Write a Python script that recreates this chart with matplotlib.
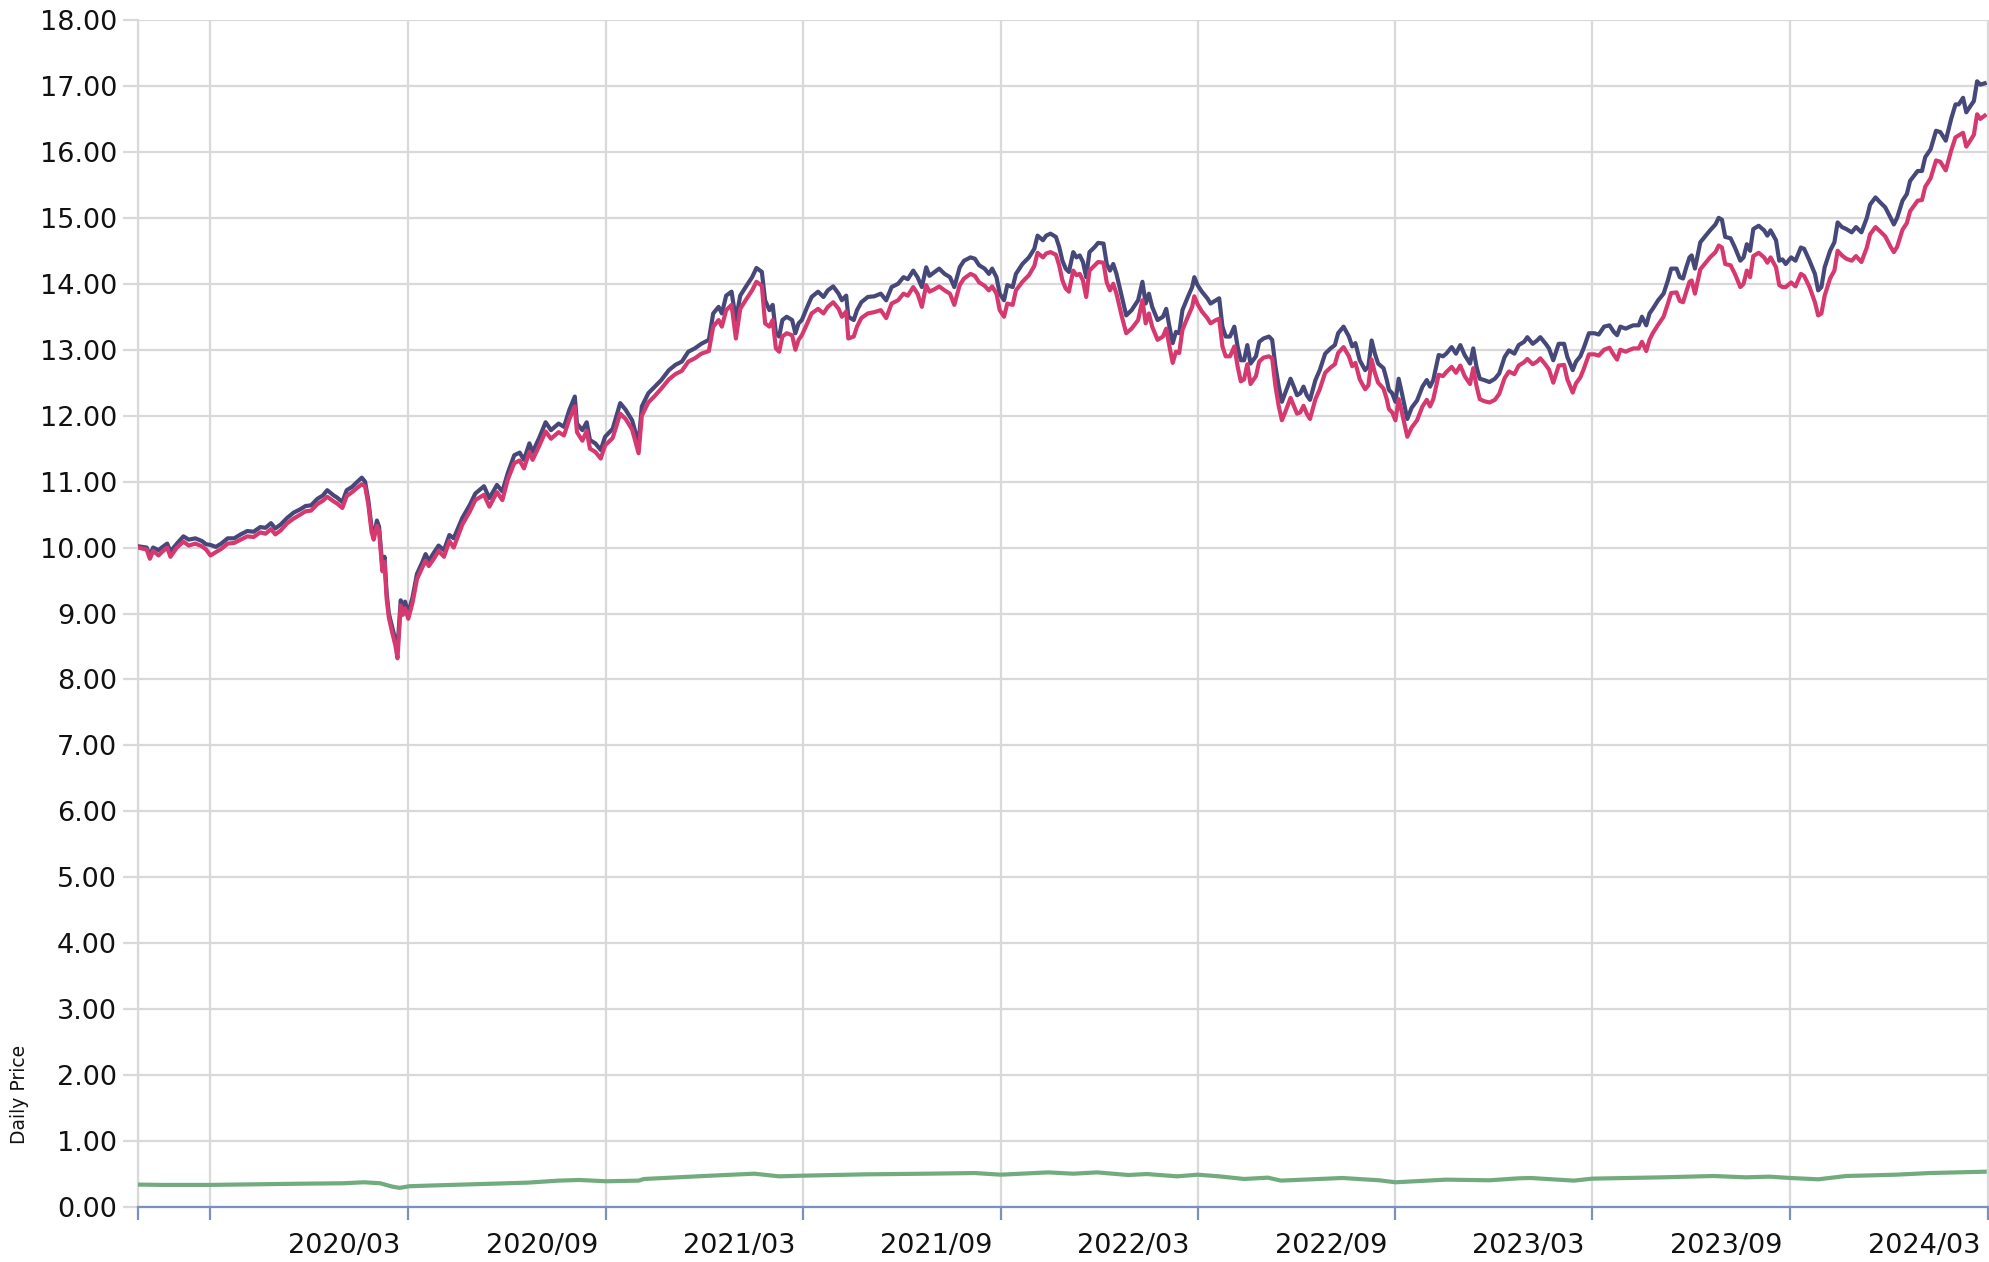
import pandas as pd
import matplotlib
matplotlib.use("Agg")
import matplotlib.pyplot as plt
import matplotlib.transforms as mtransforms

# --- data ---
price_dates = [
    "2019-07-25", "2019-08-02", "2019-08-05", "2019-08-08", "2019-08-13", "2019-08-16", "2019-08-21", "2019-08-24", "2019-08-30", "2019-09-05",
    "2019-09-10", "2019-09-16", "2019-09-22", "2019-09-26", "2019-09-30", "2019-10-05", "2019-10-10", "2019-10-16", "2019-10-22", "2019-10-28",
    "2019-11-03", "2019-11-09", "2019-11-15", "2019-11-20", "2019-11-25", "2019-11-29", "2019-12-04", "2019-12-10", "2019-12-16", "2019-12-22",
    "2019-12-27", "2020-01-01", "2020-01-07", "2020-01-12", "2020-01-16", "2020-01-22", "2020-01-25", "2020-01-30", "2020-02-03", "2020-02-08",
    "2020-02-13", "2020-02-17", "2020-02-20", "2020-02-23", "2020-02-26", "2020-02-28", "2020-03-02", "2020-03-04", "2020-03-07", "2020-03-09",
    "2020-03-11", "2020-03-13", "2020-03-16", "2020-03-19", "2020-03-21", "2020-03-24", "2020-03-26", "2020-03-28", "2020-03-31", "2020-04-04",
    "2020-04-08", "2020-04-13", "2020-04-16", "2020-04-19", "2020-04-24", "2020-04-28", "2020-05-03", "2020-05-08", "2020-05-12", "2020-05-20",
    "2020-05-27", "2020-06-01", "2020-06-09", "2020-06-14", "2020-06-21", "2020-06-26", "2020-07-01", "2020-07-07", "2020-07-12", "2020-07-16",
    "2020-07-21", "2020-07-24", "2020-07-30", "2020-08-05", "2020-08-10", "2020-08-17", "2020-08-22", "2020-08-27", "2020-09-01", "2020-09-03",
    "2020-09-08", "2020-09-12", "2020-09-15", "2020-09-20", "2020-09-25", "2020-09-29", "2020-10-06", "2020-10-13", "2020-10-18", "2020-10-24",
    "2020-10-30", "2020-11-02", "2020-11-08", "2020-11-14", "2020-11-20", "2020-11-27", "2020-12-03", "2020-12-09", "2020-12-15", "2020-12-21",
    "2020-12-27", "2021-01-03", "2021-01-07", "2021-01-12", "2021-01-15", "2021-01-19", "2021-01-24", "2021-01-28", "2021-02-01", "2021-02-06",
    "2021-02-12", "2021-02-16", "2021-02-21", "2021-02-24", "2021-02-28", "2021-03-03", "2021-03-06", "2021-03-09", "2021-03-12", "2021-03-16",
    "2021-03-21", "2021-03-24", "2021-03-27", "2021-03-30", "2021-04-04", "2021-04-08", "2021-04-14", "2021-04-19", "2021-04-23", "2021-04-28",
    "2021-05-03", "2021-05-06", "2021-05-10", "2021-05-12", "2021-05-17", "2021-05-20", "2021-05-24", "2021-05-30", "2021-06-05", "2021-06-11",
    "2021-06-16", "2021-06-21", "2021-06-27", "2021-07-02", "2021-07-06", "2021-07-11", "2021-07-15", "2021-07-19", "2021-07-23", "2021-07-26",
    "2021-07-31", "2021-08-04", "2021-08-09", "2021-08-14", "2021-08-18", "2021-08-23", "2021-08-27", "2021-09-02", "2021-09-06", "2021-09-10",
    "2021-09-15", "2021-09-19", "2021-09-22", "2021-09-26", "2021-09-29", "2021-10-03", "2021-10-06", "2021-10-11", "2021-10-14", "2021-10-20",
    "2021-10-26", "2021-10-31", "2021-11-03", "2021-11-08", "2021-11-11", "2021-11-15", "2021-11-20", "2021-11-23", "2021-11-26", "2021-11-29",
    "2021-12-02", "2021-12-06", "2021-12-09", "2021-12-12", "2021-12-15", "2021-12-18", "2021-12-21", "2021-12-26", "2021-12-29", "2022-01-03",
    "2022-01-06", "2022-01-09", "2022-01-12", "2022-01-15", "2022-01-20", "2022-01-24", "2022-01-29", "2022-02-04", "2022-02-08", "2022-02-11",
    "2022-02-14", "2022-02-17", "2022-02-22", "2022-02-27", "2022-03-02", "2022-03-05", "2022-03-08", "2022-03-11", "2022-03-14", "2022-03-17",
    "2022-03-22", "2022-03-26", "2022-03-28", "2022-03-31", "2022-04-04", "2022-04-09", "2022-04-12", "2022-04-17", "2022-04-20", "2022-04-23",
    "2022-04-26", "2022-04-30", "2022-05-04", "2022-05-07", "2022-05-10", "2022-05-13", "2022-05-16", "2022-05-19", "2022-05-24", "2022-05-27",
    "2022-05-31", "2022-06-05", "2022-06-08", "2022-06-11", "2022-06-14", "2022-06-17", "2022-06-20", "2022-06-25", "2022-06-28", "2022-07-01",
    "2022-07-04", "2022-07-07", "2022-07-10", "2022-07-13", "2022-07-18", "2022-07-22", "2022-07-27", "2022-08-01", "2022-08-05", "2022-08-08",
    "2022-08-13", "2022-08-18", "2022-08-21", "2022-08-24", "2022-08-28", "2022-09-02", "2022-09-05", "2022-09-08", "2022-09-11", "2022-09-14",
    "2022-09-19", "2022-09-22", "2022-09-24", "2022-09-27", "2022-09-30", "2022-10-03", "2022-10-06", "2022-10-11", "2022-10-15", "2022-10-20",
    "2022-10-25", "2022-10-29", "2022-11-01", "2022-11-04", "2022-11-09", "2022-11-13", "2022-11-16", "2022-11-21", "2022-11-25", "2022-11-29",
    "2022-12-03", "2022-12-08", "2022-12-11", "2022-12-14", "2022-12-17", "2022-12-21", "2022-12-26", "2022-12-31", "2023-01-04", "2023-01-09",
    "2023-01-13", "2023-01-18", "2023-01-22", "2023-01-27", "2023-01-30", "2023-02-04", "2023-02-08", "2023-02-11", "2023-02-16", "2023-02-19",
    "2023-02-23", "2023-02-28", "2023-03-05", "2023-03-08", "2023-03-13", "2023-03-16", "2023-03-20", "2023-03-23", "2023-03-28", "2023-04-02",
    "2023-04-06", "2023-04-11", "2023-04-16", "2023-04-20", "2023-04-23", "2023-04-26", "2023-05-01", "2023-05-05", "2023-05-08", "2023-05-13",
    "2023-05-16", "2023-05-20", "2023-05-23", "2023-05-26", "2023-05-31", "2023-06-05", "2023-06-09", "2023-06-12", "2023-06-17", "2023-06-20",
    "2023-06-23", "2023-06-26", "2023-06-29", "2023-07-01", "2023-07-04", "2023-07-09", "2023-07-13", "2023-07-18", "2023-07-23", "2023-07-26",
    "2023-07-29", "2023-08-01", "2023-08-06", "2023-08-10", "2023-08-15", "2023-08-18", "2023-08-21", "2023-08-24", "2023-08-27", "2023-09-01",
    "2023-09-06", "2023-09-09", "2023-09-12", "2023-09-17", "2023-09-20", "2023-09-23", "2023-09-26", "2023-10-01", "2023-10-05", "2023-10-10",
    "2023-10-13", "2023-10-18", "2023-10-23", "2023-10-26", "2023-10-29", "2023-11-01", "2023-11-06", "2023-11-10", "2023-11-13", "2023-11-17",
    "2023-11-21", "2023-11-26", "2023-11-30", "2023-12-05", "2023-12-10", "2023-12-13", "2023-12-18", "2023-12-22", "2023-12-27", "2024-01-01",
    "2024-01-04", "2024-01-07", "2024-01-12", "2024-01-16", "2024-01-19", "2024-01-26", "2024-01-30", "2024-02-02", "2024-02-07", "2024-02-12",
    "2024-02-16", "2024-02-21", "2024-02-26", "2024-03-01", "2024-03-04", "2024-03-08", "2024-03-11", "2024-03-15", "2024-03-18", "2024-03-21",
    "2024-03-24", "2024-03-28",
]

# dark blue line
fund_price = [
    10.02, 10.00, 9.88, 10.00, 9.96, 10.00, 10.06, 9.94, 10.06, 10.17,
    10.12, 10.14, 10.10, 10.05, 10.04, 10.01, 10.06, 10.14, 10.14, 10.20,
    10.25, 10.24, 10.31, 10.30, 10.37, 10.29, 10.35, 10.45, 10.53, 10.58,
    10.63, 10.64, 10.74, 10.79, 10.87, 10.79, 10.76, 10.69, 10.87, 10.92,
    11.00, 11.06, 11.00, 10.72, 10.31, 10.16, 10.41, 10.31, 9.71, 9.86,
    9.30, 9.00, 8.80, 8.60, 8.48, 9.20, 9.05, 9.18, 9.00, 9.25,
    9.60, 9.78, 9.90, 9.80, 9.93, 10.03, 9.96, 10.19, 10.14, 10.45,
    10.65, 10.82, 10.93, 10.75, 10.95, 10.85, 11.13, 11.40, 11.44, 11.33,
    11.58, 11.45, 11.66, 11.90, 11.78, 11.88, 11.83, 12.09, 12.29, 11.88,
    11.78, 11.90, 11.63, 11.58, 11.48, 11.68, 11.80, 12.19, 12.09, 11.93,
    11.58, 12.14, 12.34, 12.44, 12.54, 12.69, 12.77, 12.82, 12.97, 13.02,
    13.09, 13.15, 13.55, 13.65, 13.55, 13.82, 13.88, 13.45, 13.82, 13.95,
    14.10, 14.24, 14.18, 13.75, 13.60, 13.68, 13.25, 13.20, 13.45, 13.50,
    13.45, 13.25, 13.40, 13.45, 13.65, 13.80, 13.88, 13.80, 13.90, 13.96,
    13.85, 13.75, 13.82, 13.50, 13.45, 13.60, 13.72, 13.80, 13.81, 13.85,
    13.75, 13.95, 14.00, 14.10, 14.07, 14.20, 14.10, 13.95, 14.25, 14.12,
    14.18, 14.23, 14.15, 14.10, 13.95, 14.25, 14.35, 14.40, 14.38, 14.28,
    14.23, 14.15, 14.23, 14.10, 13.85, 13.75, 13.98, 13.95, 14.15, 14.30,
    14.40, 14.53, 14.73, 14.66, 14.73, 14.76, 14.71, 14.56, 14.35, 14.23,
    14.18, 14.48, 14.40, 14.43, 14.33, 14.10, 14.48, 14.56, 14.62, 14.61,
    14.30, 14.20, 14.30, 14.15, 13.80, 13.52, 13.60, 13.75, 14.03, 13.70,
    13.85, 13.65, 13.45, 13.50, 13.62, 13.35, 13.10, 13.27, 13.25, 13.60,
    13.80, 13.95, 14.10, 13.98, 13.88, 13.78, 13.70, 13.75, 13.78, 13.35,
    13.20, 13.20, 13.35, 13.05, 12.84, 12.84, 13.07, 12.79, 12.90, 13.12,
    13.17, 13.20, 13.15, 12.75, 12.45, 12.21, 12.34, 12.56, 12.44, 12.31,
    12.34, 12.44, 12.31, 12.24, 12.54, 12.69, 12.94, 13.02, 13.07, 13.25,
    13.35, 13.20, 13.05, 13.10, 12.84, 12.69, 12.75, 13.14, 12.94, 12.79,
    12.72, 12.54, 12.39, 12.34, 12.21, 12.56, 12.34, 11.95, 12.12, 12.23,
    12.44, 12.54, 12.44, 12.54, 12.92, 12.90, 12.94, 13.04, 12.94, 13.07,
    12.92, 12.79, 13.02, 12.74, 12.56, 12.54, 12.51, 12.56, 12.64, 12.89,
    12.99, 12.94, 13.07, 13.12, 13.19, 13.09, 13.14, 13.19, 13.09, 13.02,
    12.84, 13.09, 13.09, 12.89, 12.69, 12.82, 12.90, 13.02, 13.25, 13.25,
    13.23, 13.35, 13.37, 13.27, 13.22, 13.35, 13.32, 13.35, 13.37, 13.37,
    13.50, 13.37, 13.55, 13.62, 13.75, 13.85, 14.05, 14.23, 14.23, 14.10,
    14.08, 14.25, 14.40, 14.43, 14.23, 14.63, 14.71, 14.81, 14.90, 15.00,
    14.97, 14.71, 14.69, 14.55, 14.35, 14.40, 14.60, 14.50, 14.83, 14.88,
    14.81, 14.73, 14.81, 14.66, 14.35, 14.37, 14.30, 14.40, 14.35, 14.55,
    14.53, 14.35, 14.15, 13.90, 13.95, 14.25, 14.50, 14.63, 14.93, 14.86,
    14.83, 14.78, 14.86, 14.78, 15.00, 15.20, 15.31, 15.24, 15.16, 15.00,
    14.90, 15.00, 15.26, 15.36, 15.56, 15.71, 15.71, 15.92, 16.04, 16.32,
    16.30, 16.17, 16.50, 16.72, 16.72, 16.82, 16.60, 16.70, 16.77, 17.07,
    17.02, 17.04,
]

# pink line
index_price = [
    10.00, 9.97, 9.83, 9.95, 9.88, 9.93, 10.00, 9.86, 10.00, 10.09,
    10.03, 10.06, 10.02, 9.97, 9.88, 9.93, 9.98, 10.06, 10.07, 10.12,
    10.17, 10.16, 10.23, 10.21, 10.28, 10.20, 10.26, 10.37, 10.44, 10.50,
    10.55, 10.56, 10.66, 10.71, 10.77, 10.70, 10.67, 10.60, 10.78, 10.84,
    10.91, 10.96, 10.93, 10.66, 10.24, 10.12, 10.33, 10.25, 9.64, 9.78,
    9.22, 8.94, 8.72, 8.52, 8.32, 9.12, 8.98, 9.08, 8.92, 9.17,
    9.52, 9.70, 9.80, 9.72, 9.84, 9.95, 9.86, 10.10, 10.00, 10.35,
    10.55, 10.72, 10.80, 10.62, 10.84, 10.72, 11.03, 11.28, 11.32, 11.20,
    11.45, 11.33, 11.54, 11.76, 11.65, 11.75, 11.70, 11.95, 12.14, 11.75,
    11.62, 11.77, 11.50, 11.45, 11.35, 11.55, 11.66, 12.03, 11.95, 11.79,
    11.43, 12.00, 12.20, 12.30, 12.41, 12.55, 12.63, 12.68, 12.82, 12.87,
    12.94, 12.98, 13.35, 13.45, 13.35, 13.60, 13.68, 13.17, 13.62, 13.75,
    13.90, 14.03, 13.97, 13.40, 13.35, 13.45, 13.02, 12.97, 13.20, 13.25,
    13.22, 13.00, 13.15, 13.22, 13.40, 13.55, 13.62, 13.55, 13.65, 13.72,
    13.62, 13.50, 13.58, 13.17, 13.20, 13.35, 13.48, 13.55, 13.57, 13.60,
    13.48, 13.70, 13.75, 13.85, 13.82, 13.95, 13.85, 13.65, 13.98, 13.88,
    13.92, 13.96, 13.90, 13.85, 13.68, 13.98, 14.08, 14.15, 14.12, 14.02,
    13.97, 13.90, 13.96, 13.85, 13.60, 13.50, 13.70, 13.68, 13.90, 14.03,
    14.13, 14.27, 14.47, 14.40, 14.46, 14.48, 14.44, 14.28, 14.05, 13.93,
    13.88, 14.20, 14.13, 14.15, 14.05, 13.80, 14.20, 14.28, 14.33, 14.32,
    14.02, 13.90, 14.00, 13.85, 13.50, 13.25, 13.32, 13.45, 13.75, 13.40,
    13.55, 13.35, 13.15, 13.20, 13.32, 13.05, 12.80, 12.97, 12.95, 13.30,
    13.50, 13.65, 13.81, 13.69, 13.58, 13.48, 13.40, 13.45, 13.47, 13.05,
    12.90, 12.90, 13.05, 12.75, 12.52, 12.55, 12.78, 12.48, 12.60, 12.82,
    12.88, 12.90, 12.87, 12.45, 12.15, 11.93, 12.05, 12.27, 12.15, 12.03,
    12.05, 12.15, 12.03, 11.95, 12.25, 12.40, 12.65, 12.73, 12.78, 12.95,
    13.04, 12.90, 12.75, 12.80, 12.55, 12.40, 12.46, 12.85, 12.65, 12.50,
    12.41, 12.25, 12.10, 12.05, 11.93, 12.25, 12.05, 11.68, 11.82, 11.93,
    12.14, 12.24, 12.14, 12.25, 12.62, 12.60, 12.66, 12.74, 12.65, 12.76,
    12.60, 12.48, 12.72, 12.45, 12.25, 12.22, 12.20, 12.24, 12.33, 12.57,
    12.67, 12.63, 12.76, 12.81, 12.86, 12.78, 12.82, 12.87, 12.77, 12.70,
    12.50, 12.76, 12.77, 12.55, 12.35, 12.49, 12.58, 12.70, 12.93, 12.93,
    12.91, 13.00, 13.03, 12.92, 12.85, 13.00, 12.97, 13.00, 13.02, 13.02,
    13.12, 12.98, 13.15, 13.25, 13.38, 13.50, 13.70, 13.86, 13.87, 13.74,
    13.72, 13.88, 14.03, 14.05, 13.85, 14.22, 14.30, 14.40, 14.48, 14.58,
    14.55, 14.30, 14.28, 14.15, 13.95, 14.00, 14.20, 14.10, 14.42, 14.47,
    14.40, 14.32, 14.40, 14.25, 13.98, 13.95, 13.95, 14.02, 13.96, 14.15,
    14.12, 13.95, 13.72, 13.52, 13.55, 13.82, 14.08, 14.20, 14.50, 14.43,
    14.38, 14.35, 14.42, 14.33, 14.55, 14.75, 14.86, 14.80, 14.72, 14.56,
    14.48, 14.56, 14.82, 14.92, 15.10, 15.26, 15.27, 15.47, 15.60, 15.87,
    15.85, 15.72, 16.02, 16.22, 16.25, 16.29, 16.08, 16.18, 16.26, 16.57,
    16.50, 16.55,
]

# green line
dist_dates = [
    "2019-07-25", "2019-08-15", "2019-09-30", "2019-11-15", "2019-12-31", "2020-01-31", "2020-02-19", "2020-03-05",
    "2020-03-16", "2020-03-23", "2020-04-01", "2020-04-20", "2020-05-20", "2020-06-20", "2020-07-20", "2020-08-17",
    "2020-09-05", "2020-09-30", "2020-10-30", "2020-11-04", "2021-01-05", "2021-02-14", "2021-03-09", "2021-03-31",
    "2021-05-27", "2021-07-23", "2021-09-06", "2021-09-30", "2021-11-13", "2021-12-06", "2021-12-28", "2022-01-26",
    "2022-02-12", "2022-03-12", "2022-03-31", "2022-04-20", "2022-05-13", "2022-06-04", "2022-06-16", "2022-08-12",
    "2022-09-15", "2022-09-30", "2022-11-16", "2022-12-26", "2023-01-22", "2023-02-02", "2023-03-14", "2023-03-31",
    "2023-06-04", "2023-07-21", "2023-08-20", "2023-09-11", "2023-09-30", "2023-10-26", "2023-11-21", "2024-01-06",
    "2024-02-06", "2024-03-28",
]
dist_values = [
    0.34, 0.335, 0.335, 0.345, 0.355, 0.36, 0.375, 0.36,
    0.31, 0.29, 0.315, 0.325, 0.34, 0.355, 0.37, 0.40,
    0.41, 0.39, 0.40, 0.425, 0.475, 0.505, 0.465, 0.475,
    0.495, 0.505, 0.515, 0.49, 0.525, 0.505, 0.525, 0.485,
    0.50, 0.465, 0.49, 0.465, 0.425, 0.445, 0.40, 0.44,
    0.405, 0.375, 0.415, 0.405, 0.435, 0.44, 0.40, 0.43,
    0.45, 0.47, 0.45, 0.46, 0.44, 0.42, 0.47, 0.49,
    0.515, 0.535,
]

tick_dates = ["2019-07-25", "2019-09-30", "2020-03-31", "2020-09-30", "2021-03-31", "2021-09-30",
              "2022-03-31", "2022-09-30", "2023-03-31", "2023-09-30", "2024-03-31"]
tick_labels = ["", "", "2020/03", "2020/09", "2021/03", "2021/09",
               "2022/03", "2022/09", "2023/03", "2023/09", "2024/03"]
y_ticks = list(range(0, 19))


def main():
    assert len(price_dates) == len(fund_price) == len(index_price)
    assert len(dist_dates) == len(dist_values)

    px = pd.to_datetime(price_dates)
    dx = pd.to_datetime(dist_dates)

    W, H = 1990, 1262
    fig = plt.figure(figsize=(W / 100, H / 100), dpi=100)
    left, right, top, bottom = 138, 1989, 20, 1207
    ax = fig.add_axes([left / W, (H - bottom) / H, (right - left) / W, (bottom - top) / H])

    grid_c = "#d9d9d9"
    axis_c = "#7a90bd"

    ax.plot(dx, dist_values, color="#72ab7e", lw=3.0, solid_joinstyle="round", zorder=3)
    ax.plot(px, fund_price, color="#46487a", lw=3.0, solid_joinstyle="round", zorder=3)
    ax.plot(px, index_price, color="#d6396f", lw=3.0, solid_joinstyle="round", zorder=4)

    ax.set_ylim(0, 18)
    ax.set_xlim(pd.Timestamp("2019-07-25"), pd.Timestamp("2024-04-01"))

    ax.set_yticks(y_ticks)
    ax.set_yticklabels([f"{v:.2f}" for v in y_ticks])
    ax.set_xticks(pd.to_datetime(tick_dates))
    ax.set_xticklabels(tick_labels)

    ax.grid(True, color=grid_c, lw=1.6)
    ax.set_axisbelow(True)
    for s in ["top", "right"]:
        ax.spines[s].set_visible(False)
    ax.spines["left"].set_color(grid_c)
    ax.spines["left"].set_linewidth(1.6)
    ax.spines["bottom"].set_color(axis_c)
    ax.spines["bottom"].set_linewidth(1.6)
    ax.spines["bottom"].set_zorder(5)

    ax.tick_params(axis="y", length=11, width=1.6, color=grid_c, pad=4, labelsize=19.5, labelcolor="#111111")
    ax.tick_params(axis="x", length=9, width=1.6, color=axis_c, pad=10, labelsize=19.5, labelcolor="#111111")

    # labels sit to the left of their tick
    shift = mtransforms.ScaledTranslation(-8 / 100, 0, fig.dpi_scale_trans)
    for lab in ax.get_xticklabels():
        lab.set_horizontalalignment("right")
        lab.set_transform(lab.get_transform() + shift)

    fig.text(20 / W, 1 - 1094 / H, "Daily Price", rotation=90, ha="center", va="center",
             fontsize=13.5, color="#111111")

    fig.savefig("out.png", dpi=100)


if __name__ == "__main__":
    main()
